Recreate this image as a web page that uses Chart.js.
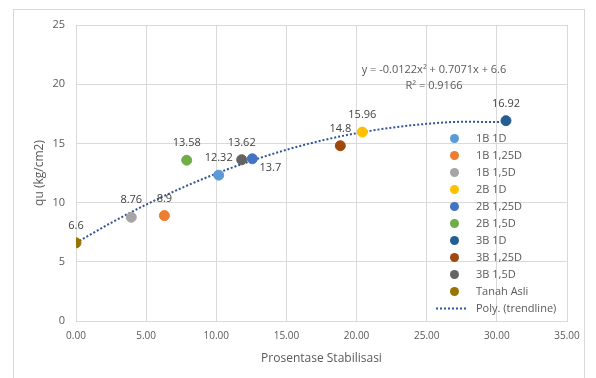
<!DOCTYPE html>
<html>
<head>
<meta charset="utf-8">
<script src="https://cdn.jsdelivr.net/npm/chart.js@4"></script>
<style>
  body { margin: 0; background: #fff; }
  #wrap { position: relative; width: 596px; height: 378px; }
  #frame { position: absolute; left: 13px; top: 9px; width: 572px; height: 380px; border: 1px solid #d9d9d9; box-sizing: border-box; }
</style>
</head>
<body>
<div id="wrap">
  <div id="frame"></div>
  <canvas id="qcChart" width="596" height="378"></canvas>
</div>
<script>
const seriesNames = ['1B 1D', '1B 1,25D', '1B 1,5D', '2B 1D', '2B 1,25D', '2B 1,5D', '3B 1D', '3B 1,25D', '3B 1,5D', 'Tanah Asli'];
const stabilisasi = [10.17, 6.30, 3.94, 20.41, 12.57, 7.89, 30.65, 18.84, 11.81, 0];
const quValues = [12.32, 8.9, 8.76, 15.96, 13.7, 13.58, 16.92, 14.8, 13.62, 6.6];
const seriesColors = ['#5b9bd5', '#ed7d31', '#a5a5a5', '#ffc000', '#4472c4', '#70ad47', '#255e91', '#9e480e', '#636363', '#997300'];

// trendline
const trendX = [0, 2.5, 5, 7.5, 10, 12.5, 15, 17.5, 20, 22.5, 25, 27.5, 30.65];
const trendY = [6.6, 8.29, 9.83, 11.22, 12.45, 13.53, 14.46, 15.24, 15.86, 16.33, 16.65, 16.82, 16.81];

const xTicks = [0, 5, 10, 15, 20, 25, 30, 35];
const yTicks = [0, 5, 10, 15, 20, 25];

const FONT = 'Open Sans';
const GREY = '#595959';

// label offsets (dx, dy) from the marker
const labelOffset = { '2B 1,25D': [18, 9] };

const datasets = seriesNames.map((name, i) => ({
  label: name,
  data: [{ x: stabilisasi[i], y: quValues[i] }],
  backgroundColor: seriesColors[i],
  borderColor: seriesColors[i],
  pointRadius: 5,
  pointHoverRadius: 5
}));

datasets.push({
  type: 'line',
  label: 'Poly. (trendline)',
  data: trendX.map((x, i) => ({ x: x, y: trendY[i] })),
  borderColor: '#2f5597',
  borderWidth: 2,
  borderDash: [2, 2],
  pointRadius: 0,
  cubicInterpolationMode: 'monotone',
  fill: false
});

const overlay = {
  id: 'overlay',
  afterDatasetsDraw(chart) {
    const ctx = chart.ctx;
    ctx.save();
    ctx.font = '11px "' + FONT + '"';
    ctx.textBaseline = 'middle';

    // data labels
    ctx.fillStyle = '#404040';
    ctx.textAlign = 'center';
    seriesNames.forEach((name, i) => {
      const pt = chart.getDatasetMeta(i).data[0];
      const off = labelOffset[name] || [0, -17];
      ctx.fillText(String(quValues[i]), pt.x + off[0], pt.y + off[1]);
    });

    // equation
    ctx.fillStyle = GREY;
    ctx.font = '11px "' + FONT + '"';
    ctx.fillText('y = -0.0122x² + 0.7071x + 6.6', 434, 70);
    ctx.fillText('R² = 0.9166', 434, 86);

    // legend
    ctx.textAlign = 'left';
    chart.data.datasets.forEach((ds, i) => {
      const y = 138.5 + i * 17;
      if (ds.type === 'line') {
        ctx.strokeStyle = ds.borderColor;
        ctx.lineWidth = 2;
        ctx.setLineDash([2, 2]);
        ctx.beginPath();
        ctx.moveTo(436, y);
        ctx.lineTo(466, y);
        ctx.stroke();
        ctx.setLineDash([]);
      } else {
        ctx.fillStyle = ds.backgroundColor;
        ctx.beginPath();
        ctx.arc(454.5, y, 4.5, 0, Math.PI * 2);
        ctx.fill();
      }
      ctx.fillStyle = GREY;
      ctx.fillText(ds.label, 476, y);
    });
    ctx.restore();
  }
};

new Chart(document.getElementById('qcChart'), {
  type: 'scatter',
  data: { datasets: datasets },
  options: {
    responsive: false,
    animation: false,
    layout: { padding: { top: 25, right: 29, left: 0, bottom: 0 } },
    plugins: { legend: { display: false }, tooltip: { enabled: false } },
    scales: {
      x: {
        type: 'linear',
        min: 0,
        max: 35,
        afterBuildTicks: (s) => { s.ticks = xTicks.map(v => ({ value: v })); },
        afterFit: (s) => { s.height = 57; },
        ticks: { color: GREY, font: { family: FONT, size: 10 }, padding: 9, callback: (v) => v.toFixed(2) },
        grid: { color: '#d9d9d9', drawTicks: false },
        border: { color: '#d9d9d9' },
        title: { display: true, text: 'Prosentase Stabilisasi', color: GREY, font: { family: FONT, size: 12 }, padding: { top: 4, bottom: 12 } }
      },
      y: {
        min: 0,
        max: 25,
        afterBuildTicks: (s) => { s.ticks = yTicks.map(v => ({ value: v })); },
        afterFit: (s) => { s.width = 76; },
        ticks: { color: GREY, font: { family: FONT, size: 11 }, padding: 11 },
        grid: { color: '#d9d9d9', drawTicks: false },
        border: { color: '#d9d9d9' },
        title: { display: true, text: 'qu (kg/cm2)', color: GREY, font: { family: FONT, size: 12 }, padding: { top: 32, bottom: 4 } }
      }
    }
  },
  plugins: [overlay]
});
</script>
</body>
</html>
